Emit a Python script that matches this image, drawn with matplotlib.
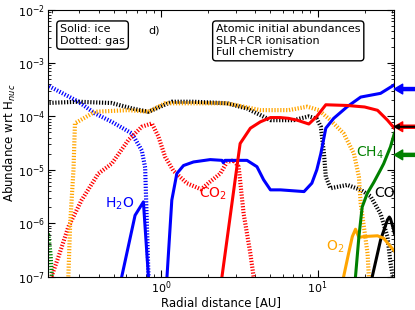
import numpy as np
import matplotlib
matplotlib.use("Agg")
import matplotlib.pyplot as plt
import matplotlib.transforms as mtransforms

# abundances (x in AU, y wrt H_nuc)
h2o_gas_x = [0.185, 0.294, 0.377, 0.483, 0.649, 0.752, 0.79, 0.81, 0.83]
h2o_gas_y = [3.9e-4, 1.9e-4, 1.14e-4, 7.9e-5, 4.8e-5, 2.3e-5, 1.1e-5, 1e-6, 1e-7]
h2o_ice_x = [0.56, 0.681, 0.77, 0.829, 0.9, 1.0, 1.09, 1.17, 1.26, 1.39, 1.61, 2.06, 2.45, 2.5,
             2.56, 3.54, 4.1, 4.52, 5.0, 5.8, 8.2, 9.2, 9.9, 10.5, 11.3, 12.7, 15.5, 18.9,
             25.3, 31.0]
h2o_ice_y = [1e-7, 1.4e-6, 2.5e-6, 1e-7, 1e-9, 1e-9, 1e-7, 2.7e-6, 8.5e-6, 1.2e-5, 1.4e-5,
             1.55e-5, 1.5e-5, 1.35e-5, 1.5e-5, 1.5e-5, 1.14e-5, 6.5e-6, 4.2e-6, 4.2e-6,
             3.9e-6, 5.6e-6, 1e-5, 2e-5, 6e-5, 9.2e-5, 1.52e-4, 2.3e-4, 2.7e-4, 3.9e-4]

co2_gas_x = [0.199, 0.22, 0.255, 0.31, 0.397, 0.483, 0.617, 0.752, 0.872, 0.96, 1.06, 1.2,
             1.46, 1.8, 2.06, 2.39, 2.64, 2.9, 3.13, 3.37, 3.72, 3.9]
co2_gas_y = [1e-7, 2.3e-7, 8.5e-7, 2.7e-6, 8.5e-6, 1.3e-5, 3.6e-5, 6.4e-5, 7.4e-5, 4.2e-5,
             1.75e-5, 9.5e-6, 5.6e-6, 4.3e-6, 6.0e-6, 8.5e-6, 1.4e-5, 1.5e-5, 1.14e-5,
             1.5e-6, 2.7e-7, 1e-7]
co2_ice_x = [2.45, 3.06, 3.2, 3.72, 4.31, 5.0, 5.77, 6.5, 7.4, 8.8, 9.9, 11.3, 15.5, 20.0,
             24.2, 28.0, 31.0]
co2_ice_y = [1e-7, 1.2e-5, 3.1e-5, 6e-5, 7.9e-5, 9.5e-5, 9.5e-5, 9.2e-5, 8.5e-5, 7.2e-5,
             1e-4, 1.65e-4, 1.6e-4, 1.5e-4, 1.3e-4, 8.5e-5, 6e-5]

co_gas_x = [0.185, 0.294, 0.483, 0.649, 0.83, 1.17, 1.61, 2.64, 3.54, 4.31, 5.0, 6.5, 7.05,
            8.8, 9.9, 10.5, 11.0, 11.3, 12.1, 15.5, 18.9, 21.8, 25.3, 28.0, 29.3, 30.3]
co_gas_y = [1.78e-4, 1.88e-4, 1.78e-4, 1.41e-4, 1.22e-4, 1.88e-4, 1.88e-4, 1.76e-4, 1.4e-4,
            1.06e-4, 8.5e-5, 8.5e-5, 8.5e-5, 1.0e-4, 9e-5, 6.4e-5, 2.0e-5, 7.4e-6, 4.5e-6,
            5.2e-6, 4.2e-6, 3.2e-6, 1.5e-6, 5.6e-7, 1.8e-7, 1e-7]
co_ice_x = [22.4, 25.3, 28.0, 28.8, 29.3, 30.7, 31.0]
co_ice_y = [1e-7, 4.8e-7, 1.15e-6, 1.3e-6, 1.2e-6, 7.5e-7, 6.5e-7]

o2_gas_x = [0.255, 0.262, 0.275, 0.281, 0.377, 0.617, 0.83, 1.06, 1.61, 2.64, 4.31, 6.54,
            8.6, 10.2, 12.1, 14.7, 17.1, 18.4, 18.9, 20.9, 21.3]
o2_gas_y = [1e-7, 1e-6, 1e-5, 7.4e-5, 1.22e-4, 1.31e-4, 1.22e-4, 1.76e-4, 1.76e-4, 1.76e-4,
            1.31e-4, 1.31e-4, 1.52e-4, 1.31e-4, 8.5e-5, 4.8e-5, 2.0e-5, 7.4e-6, 2.3e-6,
            2.7e-7, 1e-7]
o2_ice_x = [14.7, 15.8, 16.7, 17.5, 18.4, 19.7, 24.2, 26.5, 31.0]
o2_ice_y = [1e-7, 2.7e-7, 5.6e-7, 7.7e-7, 5.4e-7, 5.6e-7, 5.8e-7, 5.2e-7, 3.0e-7]

ch4_gas_x = [0.185, 0.19, 0.196, 0.2]
ch4_gas_y = [7e-7, 6e-7, 2.7e-7, 1e-7]
ch4_ice_x = [17.5, 18.4, 19.3, 20.8, 22.9, 25.3, 26.5, 29.3, 31.0]
ch4_ice_y = [1e-7, 5.6e-7, 2e-6, 3.6e-6, 5.8e-6, 1e-5, 1.3e-5, 2.7e-5, 4.8e-5]

# initial abundances (arrows on the right)
arrow_vals = [3.25e-4, 6.4e-5, 1.9e-5]
arrow_cols = ["blue", "red", "green"]

dot = (0, (0.3, 0.4))

fig = plt.figure(figsize=(4.15, 3.1), dpi=100)
ax = fig.add_axes([0.1157, 0.108, 0.8345, 0.861])

ax.plot(h2o_gas_x, h2o_gas_y, color="blue", lw=3, ls=dot)
ax.plot(co2_gas_x, co2_gas_y, color="red", lw=3, ls=dot)
ax.plot(co_gas_x, co_gas_y, color="black", lw=3, ls=dot)
ax.plot(o2_gas_x, o2_gas_y, color="orange", lw=3, ls=dot)
ax.plot(ch4_gas_x, ch4_gas_y, color="green", lw=3, ls=dot)

ax.plot(h2o_ice_x, h2o_ice_y, color="blue", lw=2.2)
ax.plot(co2_ice_x, co2_ice_y, color="red", lw=2.2)
ax.plot(co_ice_x, co_ice_y, color="black", lw=2.2)
ax.plot(o2_ice_x, o2_ice_y, color="orange", lw=2.2)
ax.plot(ch4_ice_x, ch4_ice_y, color="green", lw=2.2)

ax.set_xscale("log")
ax.set_yscale("log")
ax.set_xlim(0.189, 31)
ax.set_ylim(1e-7, 1e-2)
ax.tick_params(which="both", direction="in", top=True, right=True, labelsize=8, pad=2)
ax.tick_params(which="major", length=5)
ax.tick_params(which="minor", length=2.5)
ax.set_xlabel("Radial distance [AU]", fontsize=8.5, labelpad=0)
ax.set_ylabel("Abundance wrt H$_{nuc}$", fontsize=8.5, labelpad=0)

ax.text(0.035, 0.945, "Solid: ice\nDotted: gas", transform=ax.transAxes, fontsize=8,
        va="top", ha="left", linespacing=1.2,
        bbox=dict(boxstyle="round,pad=0.3", fc="white", ec="black"))
ax.text(0.29, 0.923, "d)", transform=ax.transAxes, fontsize=8, va="center", ha="left")
ax.text(0.485, 0.945, "Atomic initial abundances\nSLR+CR ionisation\nFull chemistry",
        transform=ax.transAxes, fontsize=8, va="top", ha="left", linespacing=1.2,
        bbox=dict(boxstyle="round,pad=0.3", fc="white", ec="black"))

ax.text(0.546, 2.28e-6, "H$_2$O", color="blue", fontsize=10, ha="center", va="center")
ax.text(2.15, 3.5e-6, "CO$_2$", color="red", fontsize=10, ha="center", va="center")
ax.text(21.5, 2.06e-5, "CH$_4$", color="green", fontsize=10, ha="center", va="center")
ax.text(26.9, 3.66e-6, "CO", color="black", fontsize=10, ha="center", va="center")
ax.text(13.0, 3.56e-7, "O$_2$", color="orange", fontsize=10, ha="center", va="center")

trans = mtransforms.blended_transform_factory(ax.transAxes, ax.transData)
for val, col in zip(arrow_vals, arrow_cols):
    ax.annotate("", xy=(1.0, val), xycoords=trans, xytext=(1.07, val), textcoords=trans,
                annotation_clip=False,
                arrowprops=dict(facecolor=col, edgecolor=col, width=2.2, headwidth=7,
                                headlength=6, shrink=0))
ax.annotate("", xy=(1.0, arrow_vals[1]), xycoords=trans, xytext=(1.07, arrow_vals[1]),
            textcoords=trans, annotation_clip=False,
            arrowprops=dict(facecolor="black", edgecolor="black", width=0.3, headwidth=3,
                            headlength=3.5, shrink=0))

fig.savefig("out.png", dpi=100)
